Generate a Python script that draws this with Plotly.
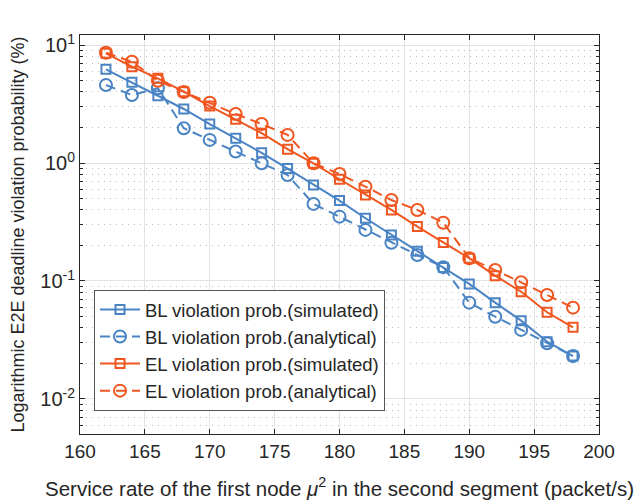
import numpy as np
import plotly.graph_objects as go

# Service rate of the first node in the second segment (packet/s)
mu2 = [162, 164, 166, 168, 170, 172, 174, 176, 178, 180,
       182, 184, 186, 188, 190, 192, 194, 196, 198]

# E2E deadline violation probability (%)
bl_sim = [6.22, 4.83, 3.72, 2.87, 2.14, 1.62, 1.22, 0.898, 0.651, 0.480,
          0.340, 0.245, 0.179, 0.130, 0.0944, 0.0655, 0.0461, 0.0306, 0.0231]
bl_ana = [4.58, 3.77, 4.30, 1.97, 1.57, 1.25, 0.994, 0.791, 0.450, 0.351,
          0.271, 0.211, 0.166, 0.131, 0.0655, 0.0498, 0.0385, 0.0297, 0.0231]
el_sim = [8.51, 6.55, 5.22, 4.02, 3.04, 2.35, 1.79, 1.31, 0.994, 0.728,
          0.536, 0.400, 0.289, 0.212, 0.156, 0.111, 0.0811, 0.0543, 0.0405]
el_ana = [8.61, 7.22, 4.98, 4.00, 3.24, 2.60, 2.14, 1.73, 0.994, 0.807,
          0.630, 0.486, 0.400, 0.312, 0.156, 0.124, 0.0975, 0.0760, 0.0594]

x_ticks = [160, 165, 170, 175, 180, 185, 190, 195, 200]
y_ticks = [0.01, 0.1, 1, 10]
y_ticktext = ["10<sup>-2</sup>", "10<sup>-1</sup>", "10<sup>0</sup>", "10<sup>1</sup>"]

BLUE = "#4a84c4"
ORANGE = "#f0561f"
AX = "#262626"
FONT = "Liberation Sans, Arial, Helvetica, sans-serif"

series = [
    ("BL violation prob.(simulated)", bl_sim, BLUE, "solid", "square-open", 9),
    ("BL violation prob.(analytical)", bl_ana, BLUE, "10px,6px", "circle-open", 12),
    ("EL violation prob.(simulated)", el_sim, ORANGE, "solid", "square-open", 9),
    ("EL violation prob.(analytical)", el_ana, ORANGE, "10px,6px", "circle-open", 12),
]

fig = go.Figure()
for name, vals, color, dash, symbol, size in series:
    fig.add_trace(go.Scatter(
        x=mu2, y=vals, name=name, mode="lines+markers",
        line=dict(color=color, width=2, dash=dash),
        marker=dict(symbol=symbol, size=size, color=color,
                    line=dict(color=color, width=2)),
    ))

fig.update_layout(
    width=638, height=504,
    margin=dict(l=80, r=39, t=35, b=70, autoexpand=False),
    paper_bgcolor="white", plot_bgcolor="white",
    font=dict(family=FONT, size=18, color=AX),
    showlegend=True,
    legend=dict(
        x=0.027, y=0.361, xanchor="left", yanchor="top",
        bgcolor="white", bordercolor="#555555", borderwidth=1,
        font=dict(family=FONT, size=18.5, color=AX),
        tracegroupgap=0, itemwidth=40,
    ),
)

fig.update_xaxes(
    range=[160, 200], tickvals=x_ticks,
    showline=True, linecolor=AX, linewidth=1, mirror="ticks",
    ticks="inside", ticklen=5, tickcolor=AX,
    showgrid=True, gridcolor="#e3e3e3", gridwidth=1,
    zeroline=False, automargin=False,
    tickfont=dict(size=19, color=AX),
    title=dict(text="Service rate of the first node <i>μ</i><sup>2</sup> in the second segment (packet/s)",
               font=dict(size=20.5, color=AX), standoff=20),
)

fig.update_yaxes(
    type="log", range=[-2.297, 1.085],
    tickvals=y_ticks, ticktext=y_ticktext,
    showline=True, linecolor=AX, linewidth=1, mirror="ticks",
    ticks="inside", ticklen=5, tickcolor=AX,
    showgrid=True, gridcolor="#e3e3e3", gridwidth=1,
    zeroline=False, automargin=False,
    tickfont=dict(size=20, color=AX),
    minor=dict(ticks="inside", ticklen=3, tickcolor=AX,
               showgrid=True, gridcolor="#bdbdbd", griddash="1px,5px", gridwidth=1,
               dtick="D1"),
    title=dict(text="Logarithmic E2E deadline violation probability (%)",
               font=dict(size=18, color=AX), standoff=10),
)

fig.write_html("out.html")
